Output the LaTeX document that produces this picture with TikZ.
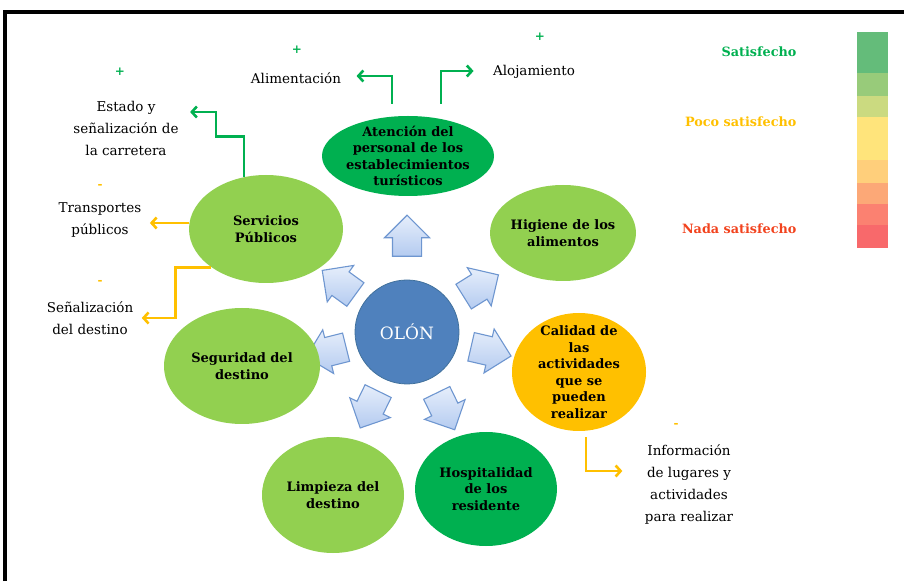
\documentclass[tikz,border=0pt]{standalone}
\usepackage{fontspec}
\setmainfont{DejaVu Serif}
\usetikzlibrary{shapes.geometric,shapes.arrows,arrows.meta,calc}

\definecolor{darkgreen}{HTML}{00B050}
\definecolor{lightgreen}{HTML}{92D050}
\definecolor{amber}{HTML}{FFC000}
\definecolor{nadared}{HTML}{F2431E}
\definecolor{olonblue}{HTML}{4F81BD}
\definecolor{olonedge}{HTML}{41719C}
\definecolor{arrowedge}{HTML}{6E96D0}
\definecolor{arrowlight}{HTML}{E6EEFB}
\definecolor{arrowdark}{HTML}{B4CBF0}
\definecolor{bar1}{HTML}{64BC7A}
\definecolor{bar2}{HTML}{98CB7A}
\definecolor{bar3}{HTML}{CBDA80}
\definecolor{bar4}{HTML}{FFE47B}
\definecolor{bar5}{HTML}{FFCF7B}
\definecolor{bar6}{HTML}{FCA877}
\definecolor{bar7}{HTML}{FB8171}
\definecolor{bar8}{HTML}{F8696B}

\begin{document}
\begin{tikzpicture}[x=1pt,y=1pt,
      factor node/.style={ellipse,inner sep=-10pt,align=center,
        font=\fontsize{13}{16.5}\selectfont\bfseries},
      label node/.style={align=center,font=\fontsize{13.5}{22}\selectfont},
      sign node/.style={font=\fontsize{12}{12}\selectfont\bfseries},
      legend node/.style={anchor=east,font=\fontsize{12.8}{14}\selectfont\bfseries},
      block arrow/.style={single arrow,draw=arrowedge,line width=1.1pt,
        top color=arrowlight,bottom color=arrowdark,minimum height=41pt,
        inner xsep=0pt,inner ysep=14pt,single arrow head extend=8pt},
      green link/.style={darkgreen,line width=2.6pt,-{Straight Barb[length=5pt,width=11pt]}},
      amber link/.style={amber,line width=2.6pt,-{Straight Barb[length=5pt,width=11pt]}}]

  \useasboundingbox (0,0) rectangle (904,581);
  \draw[line width=3.5pt] (5,0) -- (5,569) -- (904,569);

  % centro
  \node[circle,fill=olonblue,draw=olonedge,line width=0.8pt,minimum size=104pt,
    text=white,font=\fontsize{17}{20}\selectfont] (olon) at (407,249) {OLÓN};
  \foreach \ang/\rad [count=\i] in {90/89,32/80,-13/79,-64/81,-116/79,-166/76,144/77}
    \node[block arrow,rotate=\ang] (arrow\i) at ($(olon)+(\ang:\rad)$) {};

  % factores
  \node[factor node,fill=darkgreen,minimum width=172pt,minimum height=80pt] (aten) at (408,425)
    {Atención del\\personal de los\\establecimientos\\turísticos};
  \node[factor node,fill=lightgreen,minimum width=154pt,minimum height=108pt] (serv) at (266,352)
    {Servicios\\Públicos};
  \node[factor node,fill=lightgreen,minimum width=146pt,minimum height=96pt] (hig) at (563,348)
    {Higiene de los\\alimentos};
  \node[factor node,fill=amber,minimum width=134pt,minimum height=118pt] (cal) at (579,209)
    {Calidad de\\las\\actividades\\que se\\pueden\\realizar};
  \node[factor node,fill=darkgreen,minimum width=142pt,minimum height=114pt] (hosp) at (486,92)
    {Hospitalidad\\de los\\residente};
  \node[factor node,fill=lightgreen,minimum width=142pt,minimum height=116pt] (limp) at (333,86)
    {Limpieza del\\destino};
  \node[factor node,fill=lightgreen,minimum width=156pt,minimum height=116pt] (seg) at (242,215)
    {Seguridad del\\destino};

  % aspectos
  \node[label node] (alim) at (296,503) {Alimentación};
  \node[label node] (aloj) at (534,509) {Alojamiento};
  \node[label node] (estado) at (126,453) {Estado y\\señalización de\\la carretera};
  \node[label node] (transp) at (100,361) {Transportes\\públicos};
  \node[label node] (senal) at (90,263) {Señalización\\del destino};
  \node[label node] (info) at (689,96) {Información\\de lugares y\\actividades\\para realizar};

  \node[sign node,darkgreen] (plus1) at (120,509) {+};
  \node[sign node,darkgreen] (plus2) at (297,531) {+};
  \node[sign node,darkgreen] (plus3) at (540,544) {+};
  \node[sign node,amber] (minus1) at (100,394) {-};
  \node[sign node,amber] (minus2) at (100,299) {-};
  \node[sign node,amber] (minus3) at (676,156) {-};

  \draw[green link] ($(aten.north)+(-16,12)$) |- ($(alim.east)+(12,2)$);
  \draw[green link] ($(aten.north)+(33,12)$) |- ($(aloj.west)+(-16,1)$);
  \draw[green link] ($(serv.north)+(-22,-2)$) -- ++(0,40) -- ++(-28,0) |- ($(estado.east)+(8,16)$);
  \draw[amber link] ($(serv.west)+(0,6)$) -- ($(transp.east)+(5,-3)$);
  \draw[amber link] (serv.south west) -- ++(-36,0) |- ($(senal.east)+(5,0)$);
  \draw[amber link] ($(cal.south)+(7,-6)$) |- ($(info.west)+(-19,14)$);

  % leyenda
  \node[legend node,darkgreen] (sat) at (800,529) {Satisfecho};
  \node[legend node,amber] (poco) at (800,459) {Poco satisfecho};
  \node[legend node,nadared] (nada) at (800,352) {Nada satisfecho};
  \foreach \top/\bot [count=\i] in {549/508,508/485,485/464,464/421,421/398,398/377,377/356,356/333}
    \fill[bar\i] (857,\top) rectangle (888,\bot);
\end{tikzpicture}
\end{document}
